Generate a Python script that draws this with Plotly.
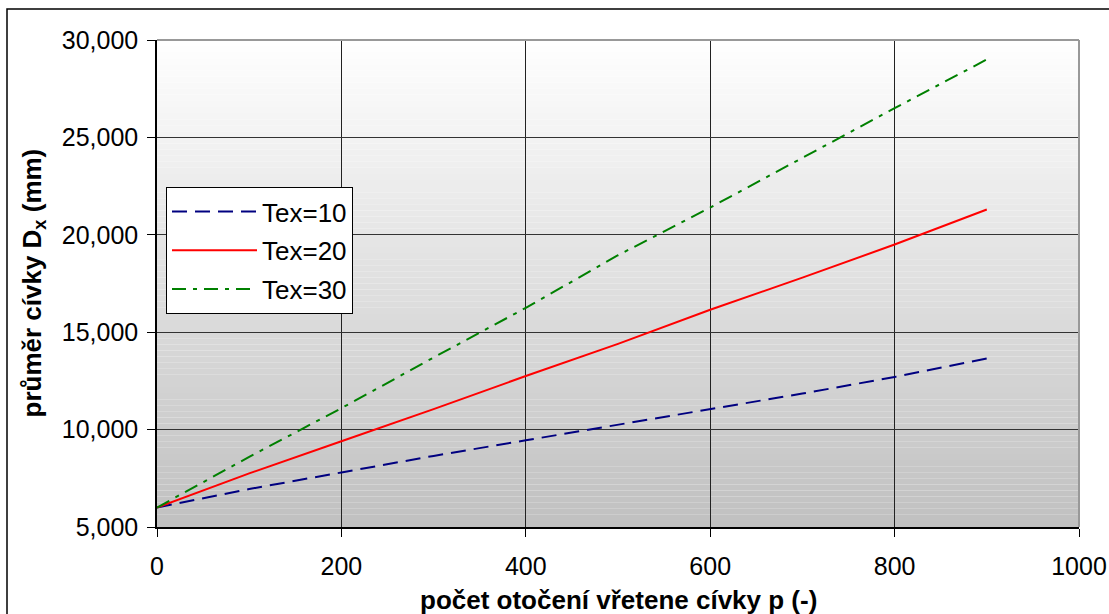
import plotly.graph_objects as go

p_values = [0, 100, 200, 300, 400, 500, 600, 700, 800, 900]
tex10 = [6000, 6950, 7800, 8650, 9450, 10250, 11050, 11850, 12700, 13650]
tex20 = [6000, 7750, 9400, 11050, 12750, 14400, 16150, 17800, 19500, 21300]
tex30 = [6000, 8600, 11100, 13700, 16250, 18950, 21400, 23950, 26500, 29000]
series_names = ["Tex=10", "Tex=20", "Tex=30"]

x_title = "počet otočení vřetene cívky p (-)"
y_title = "průměr cívky D<sub>x</sub> (mm)"

FONT = "Liberation Sans, Arial, sans-serif"

fig = go.Figure()
styles = [
    dict(color="#000080", dash="15px,8px", width=2),
    dict(color="#ff0000", dash="solid", width=2),
    dict(color="#008000", dash="14px,7px,4px,7px", width=2),
]
for name, vals, st in zip(series_names, [tex10, tex20, tex30], styles):
    fig.add_trace(go.Scatter(x=p_values, y=vals, mode="lines", name=name,
                             legendgroup=name, line=st))

# gradient background strips
shapes = []
N = 80
for i in range(N):
    t = (i + 0.5) / N
    c = int(round(192 + (255 - 192) * t))
    shapes.append(dict(type="rect", xref="x domain", yref="y domain",
                       x0=0, x1=1, y0=i / N, y1=(i + 1) / N,
                       fillcolor=f"rgb({c},{c},{c})", line=dict(width=0),
                       layer="below"))
# plot area top/right border
shapes.append(dict(type="line", xref="paper", yref="paper", x0=0, x1=1, y0=1, y1=1,
                   line=dict(color="#999999", width=2)))
shapes.append(dict(type="line", xref="paper", yref="paper", x0=1, x1=1, y0=0, y1=1,
                   line=dict(color="#999999", width=2)))
# figure border
shapes.append(dict(type="rect", xref="paper", yref="paper",
                   x0=(7 - 157) / 922, x1=(1120 - 157) / 922,
                   y0=(527 - 630) / 487, y1=(527 - 9) / 487,
                   line=dict(color="black", width=1.5), fillcolor="rgba(0,0,0,0)"))

fig.update_layout(
    width=1109, height=614,
    margin=dict(l=157, r=30, t=40, b=87, autoexpand=False),
    paper_bgcolor="white", plot_bgcolor="rgba(0,0,0,0)",
    font=dict(family=FONT, size=25, color="black"),
    shapes=shapes,
    showlegend=True,
    legend=dict(x=(166 - 157) / 922, y=(527 - 187) / 487, xanchor="left", yanchor="top",
                bgcolor="white", bordercolor="black", borderwidth=1,
                font=dict(family=FONT, size=26, color="black"),
                tracegroupgap=2, itemwidth=85),
    xaxis=dict(range=[0, 1000], tickvals=[0, 200, 400, 600, 800, 1000],
               automargin=False,
               showgrid=True, gridcolor="#222222", gridwidth=1,
               showline=True, linecolor="black", linewidth=1.5,
               ticks="outside", ticklen=8, tickcolor="black",
               ticklabelstandoff=8, zeroline=False),
    yaxis=dict(range=[5000, 30000], tickvals=[5000, 10000, 15000, 20000, 25000, 30000],
               tickformat=",d", automargin=False,
               showgrid=True, gridcolor="#333333", gridwidth=1,
               showline=True, linecolor="black", linewidth=1.5,
               ticks="outside", ticklen=8, tickcolor="black",
               ticklabelstandoff=4, zeroline=False),
    annotations=[
        dict(text=f"<b>{x_title}</b>", xref="paper", yref="paper",
             x=0.5, y=(527 - 600) / 487, xanchor="center", yanchor="middle",
             showarrow=False, font=dict(family=FONT, size=26, color="black")),
        dict(text=f"<b>{y_title}</b>", xref="paper", yref="paper",
             x=(33 - 157) / 922, y=0.5, xanchor="center", yanchor="middle",
             textangle=-90, showarrow=False,
             font=dict(family=FONT, size=26, color="black")),
    ],
)

fig.write_html("out.html")
